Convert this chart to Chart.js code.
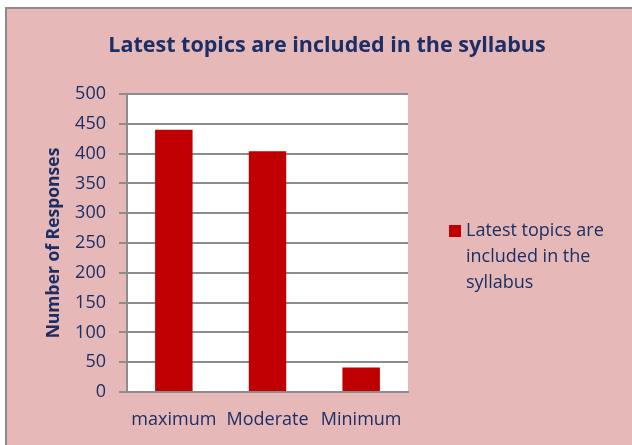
<!DOCTYPE html>
<html>
<head>
<meta charset="utf-8">
<script src="https://cdn.jsdelivr.net/npm/chart.js@4"></script>
<style>
  html, body { margin: 0; padding: 0; background: #fff; }
  #wrap { width: 632px; height: 445px; }
</style>
</head>
<body>
<div id="wrap"><canvas id="chart"></canvas></div>
<script>
const categories = ['maximum', 'Moderate', 'Minimum'];
const responses = [440, 404, 41];
const seriesName = 'Latest topics are included in the syllabus';
const chartTitle = 'Latest topics are included in the syllabus';
const yTicks = [0, 50, 100, 150, 200, 250, 300, 350, 400, 450, 500];

const navy = '#1b2f66';
const font = '"Open Sans", sans-serif';

// fondo rosa con marco, fondo blanco del área de trazado y título centrado
const backdrop = {
    id: 'backdrop',
    beforeDraw(chart) {
        const { ctx, chartArea: a } = chart;
        ctx.save();
        ctx.fillStyle = '#e6b8b7';
        ctx.fillRect(6, 8, chart.width, chart.height);
        ctx.strokeStyle = '#8c8c8c';
        ctx.lineWidth = 2;
        ctx.strokeRect(6, 8, chart.width + 10, chart.height + 10);
        ctx.fillStyle = '#ffffff';
        ctx.fillRect(a.left, a.top, a.right - a.left, a.bottom - a.top);
        ctx.font = `bold 21.5px ${font}`;
        ctx.fillStyle = navy;
        ctx.textAlign = 'center';
        ctx.textBaseline = 'middle';
        ctx.fillText(chartTitle, 327, 46);
        ctx.restore();
    },
};

// leyenda a la derecha con texto partido en varias líneas
const wrappedLegend = {
    id: 'wrappedLegend',
    afterDraw(chart) {
        const { ctx } = chart;
        const ds = chart.data.datasets[0];
        const x = 449, y = 225, maxWidth = 150;
        ctx.save();
        ctx.fillStyle = ds.backgroundColor;
        ctx.fillRect(x, y, 12, 12);
        ctx.font = `18px ${font}`;
        ctx.fillStyle = navy;
        ctx.textBaseline = 'middle';
        const lines = [];
        let line = '';
        ds.label.split(' ').forEach((word) => {
            const test = line ? `${line} ${word}` : word;
            if (ctx.measureText(test).width > maxWidth && line) {
                lines.push(line);
                line = word;
            } else {
                line = test;
            }
        });
        lines.push(line);
        lines.forEach((l, i) => ctx.fillText(l, x + 17, y + 6 + i * 26));
        ctx.restore();
    },
};

new Chart(document.getElementById('chart'), {
    type: 'bar',
    data: {
        labels: categories,
        datasets: [
            {
                label: seriesName,
                data: responses,
                backgroundColor: '#c00000',
                barPercentage: 0.4,
                categoryPercentage: 1,
            },
        ],
    },
    options: {
        responsive: true,
        maintainAspectRatio: false,
        animation: false,
        layout: { padding: { left: 38, right: 224, top: 94, bottom: 8 } },
        plugins: {
            legend: { display: false },
            tooltip: { enabled: false },
        },
        scales: {
            x: {
                grid: { display: false, drawTicks: false },
                border: { color: '#8c8c8c', width: 2 },
                ticks: { color: navy, font: { family: font, size: 18 }, padding: 17 },
                afterFit: (scale) => { scale.height = 45; },
            },
            y: {
                min: 0,
                max: 500,
                afterBuildTicks: (scale) => {
                    scale.ticks = yTicks.map((value) => ({ value }));
                },
                grid: { color: '#8c8c8c', lineWidth: 2, tickLength: 8 },
                border: { color: '#8c8c8c', width: 2 },
                ticks: { color: navy, font: { family: font, size: 18 }, padding: 13 },
                title: {
                    display: true,
                    text: 'Number of Responses',
                    color: navy,
                    font: { family: font, size: 17.5, weight: 'bold', lineHeight: 1.2 },
                    padding: { top: 6, bottom: 0 },
                },
                afterFit: (scale) => { scale.width = 89; },
            },
        },
    },
    plugins: [backdrop, wrappedLegend],
});
</script>
</body>
</html>
